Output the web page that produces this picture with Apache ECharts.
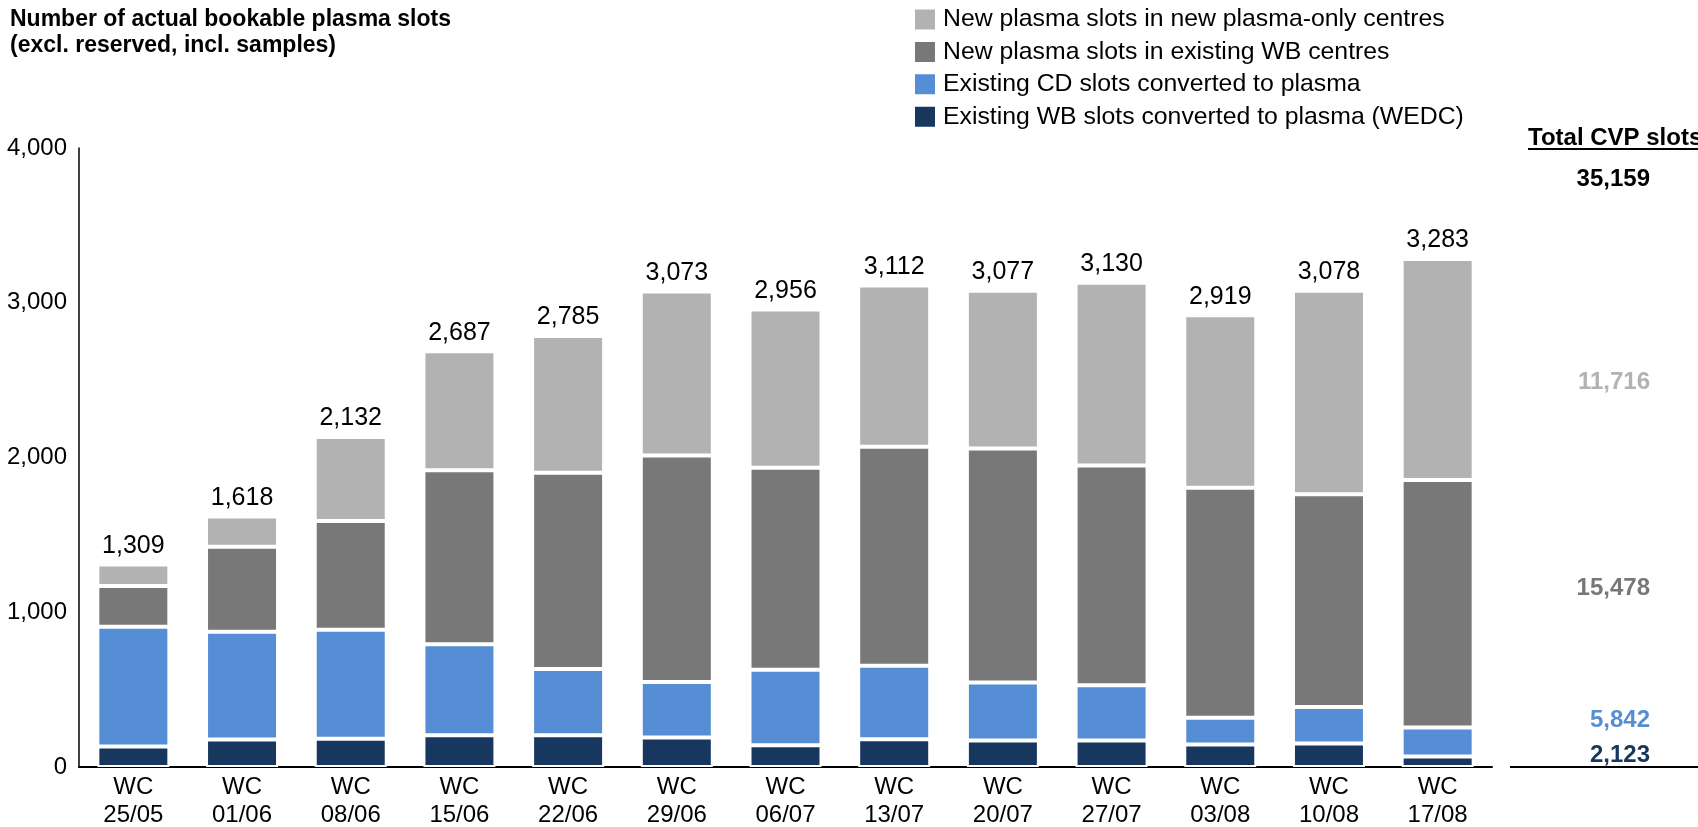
<!DOCTYPE html>
<html>
<head>
<meta charset="utf-8">
<title>Plasma slots</title>
<script src="https://cdn.jsdelivr.net/npm/echarts@6.0.0/dist/echarts.min.js"></script>
<style>
html,body{margin:0;padding:0;background:#fff;}
#main{width:1698px;height:827px;}
</style>
</head>
<body>
<div id="main"></div>
<script>
// week commencing labels
var categories=['WC\n25/05','WC\n01/06','WC\n08/06','WC\n15/06','WC\n22/06','WC\n29/06','WC\n06/07','WC\n13/07','WC\n20/07','WC\n27/07','WC\n03/08','WC\n10/08','WC\n17/08'];

// stacked segments, bottom to top
var wedcVals=[133,178,183,205,205,190,141,179,172,172,145,152,68];
var cdVals=[773,696,704,589,429,360,487,475,374,357,174,236,188];
var existingWbVals=[263,550,702,1124,1267,1463,1306,1415,1512,1419,1485,1374,1598];
var plasmaOnlyVals=[140,194,543,769,884,1060,1022,1043,1019,1182,1115,1316,1429];

var totals=[1309,1618,2132,2687,2785,3073,2956,3112,3077,3130,2919,3078,3283];

// right hand column
var sideTitle='Total CVP slots';
var sideTotal=35159;
var sideVals=[11716,15478,5842,2123];

var yTicks=[0,1000,2000,3000,4000];

var names=['New plasma slots in new plasma-only centres','New plasma slots in existing WB centres','Existing CD slots converted to plasma','Existing WB slots converted to plasma (WEDC)'];
var colors=['#B2B2B2','#787878','#558ED5','#17375E'];

var font='"Liberation Sans", Arial, sans-serif';
var fs=24;

function fmt(v){
	return Number(v).toLocaleString('en-US');
}

function bar(name,data,color,withTotal){
	var s={
		name:name,
		type:'bar',
		stack:'slots',
		barWidth:72,
		data:data,
		itemStyle:{color:color,borderColor:'#fff',borderWidth:2},
		emphasis:{disabled:true}
	};
	if(withTotal){
		s.label={
			show:true,
			position:'top',
			distance:6,
			color:'#000',
			fontSize:25,
			fontFamily:font,
			formatter:function(p){return fmt(totals[p.dataIndex]);}
		};
	}
	return s;
}

var myChart=echarts.init(document.getElementById('main'),null,{renderer:'canvas'});

//side totals, one per segment colour
var sideY=[382,588,720,755];
var graphics=[
	{type:'text',x:1528,y:138,style:{text:sideTitle,font:'bold 24px '+font,fill:'#000',verticalAlign:'middle'}},
	{type:'line',shape:{x1:1528,y1:149,x2:1698,y2:149},style:{stroke:'#000',lineWidth:2}},
	{type:'text',x:1650,y:179,style:{text:fmt(sideTotal),font:'bold 24px '+font,fill:'#000',align:'right',verticalAlign:'middle'}},
	{type:'line',shape:{x1:1510,y1:767,x2:1698,y2:767},style:{stroke:'#000',lineWidth:2}}
];
for(var i=0;i<sideVals.length;i++){
	graphics.push({type:'text',x:1650,y:sideY[i],style:{text:fmt(sideVals[i]),font:'bold 24px '+font,fill:colors[i],align:'right',verticalAlign:'middle'}});
}

var option={
	animation:false,
	title:{
		text:'Number of actual bookable plasma slots\n(excl. reserved, incl. samples)',
		left:10,top:7,padding:0,
		textStyle:{fontSize:23,fontWeight:'bold',color:'#000',fontFamily:font,lineHeight:26}
	},
	legend:{
		data:names,
		orient:'vertical',
		left:913,top:7,padding:0,
		itemWidth:22,itemHeight:22,itemGap:7.4,
		icon:'rect',
		selectedMode:false,
		textStyle:{fontSize:24.8,color:'#000',fontFamily:font,padding:[0,0,0,2]}
	},
	grid:{left:79,right:206,top:148,bottom:60,containLabel:false,outerBoundsMode:'none'},
	xAxis:{
		type:'category',
		data:categories,
		axisLine:{lineStyle:{color:'#000',width:2}},
		axisTick:{show:false},
		axisLabel:{fontSize:fs,color:'#000',fontFamily:font,lineHeight:28,margin:6,interval:0}
	},
	yAxis:{
		type:'value',
		min:yTicks[0],max:yTicks[yTicks.length-1],interval:1000,
		axisLine:{show:true,lineStyle:{color:'#000',width:1.5}},
		axisTick:{show:false},
		splitLine:{show:false},
		axisLabel:{fontSize:fs,color:'#000',fontFamily:font,margin:12,formatter:function(v){return fmt(v);}}
	},
	graphic:graphics,
	series:[
		bar(names[3],wedcVals,colors[3]),
		bar(names[2],cdVals,colors[2]),
		bar(names[1],existingWbVals,colors[1]),
		bar(names[0],plasmaOnlyVals,colors[0],true)
	]
};
myChart.setOption(option);
</script>
</body>
</html>
